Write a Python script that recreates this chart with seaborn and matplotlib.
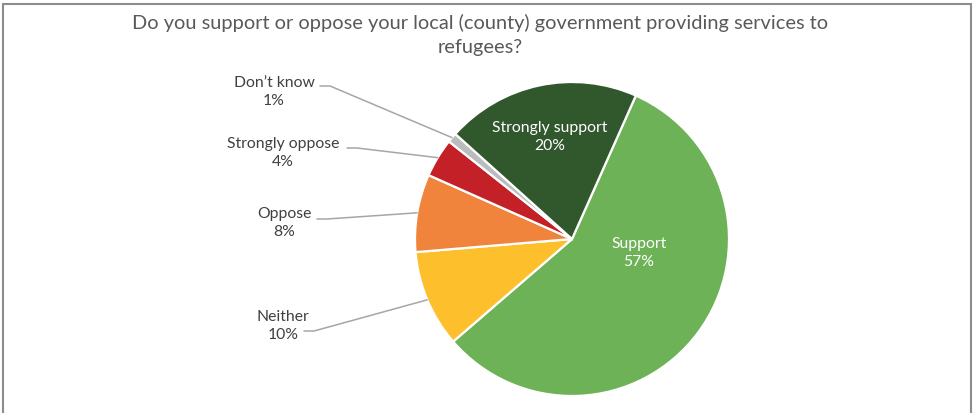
import matplotlib
matplotlib.use("Agg")
import matplotlib.pyplot as plt
import seaborn as sns
from matplotlib.patches import Rectangle
import numpy as np

# --------------------------
# Survey data (clockwise from "Support")
# --------------------------
labels = ["Support", "Neither", "Oppose", "Strongly oppose", "Don\u2019t know", "Strongly support"]
shares = [57, 10, 8, 4, 1, 20]
colors = ["#6DB256", "#FDBF2C", "#F0843C", "#C32027", "#BABCBD", "#31572C"]

title = "Do you support or oppose your local (county) government providing services to\nrefugees?"

W, H = 973, 414


def py(y):
    # pixel y from top -> data y from bottom
    return H - y


sns.set_theme(style="white")
plt.rcParams["font.family"] = ["Lato", "DejaVu Sans"]

fig = plt.figure(figsize=(W / 100, H / 100), dpi=100)
ax = fig.add_axes([0, 0, 1, 1])

wedges, _ = ax.pie(shares, colors=colors, startangle=66, counterclock=False,
                   radius=157, center=(572, py(240)),
                   wedgeprops=dict(edgecolor="white", linewidth=1.6))
ax.set_xlim(0, W)
ax.set_ylim(0, H)
ax.set_aspect("equal")
ax.axis("off")

# title
ax.text(480, py(35), title, ha="center", va="center", fontsize=14.4,
        color="#595959", linespacing=1.55)

# labels inside the two large slices
inside = {"Support": (639, 253), "Strongly support": (550, 137)}
# outside labels: text centre, leader start
outside = {
    "Don\u2019t know": ((274, 92), (320, 87)),
    "Strongly oppose": ((283, 153), (347, 149)),
    "Oppose": ((284, 223), (317, 220)),
    "Neither": ((283, 326), (304, 332)),
}

for w, lab, val in zip(wedges, labels, shares):
    txt = f"{lab}\n{val}%"
    if lab in inside:
        x, y = inside[lab]
        ax.text(x, py(y), txt, ha="center", va="center", fontsize=11.3,
                color="white", linespacing=1.4)
    else:
        (tx, ty), (lx, ly) = outside[lab]
        ax.text(tx, py(ty), txt, ha="center", va="center", fontsize=11.3,
                color="#404040", linespacing=1.4)
        mid = np.deg2rad((w.theta1 + w.theta2) / 2)
        ex = w.center[0] + w.r * np.cos(mid)
        ey = w.center[1] + w.r * np.sin(mid)
        ax.plot([lx, lx + 10, ex], [py(ly), py(ly), ey], color="#A6A6A6", lw=1.1)

# chart frame
fig.patches.append(Rectangle((2.5 / W, -0.05), 968.5 / W, (H - 4.5) / H + 0.05,
                             transform=fig.transFigure, fill=False,
                             edgecolor="#8C8C8C", linewidth=1.5))

fig.savefig("out.png", dpi=100)
